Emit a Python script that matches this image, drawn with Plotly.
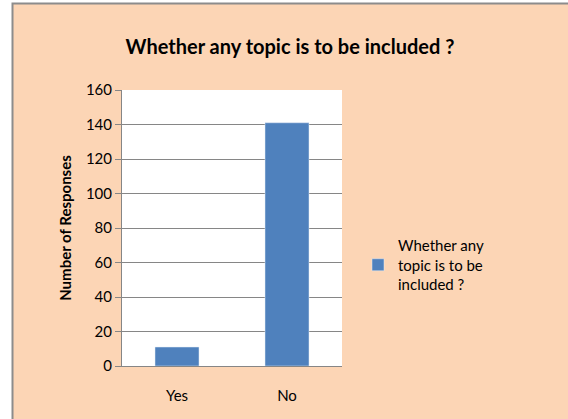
import plotly.graph_objects as go

categories = ["Yes", "No"]
responses = [11, 141]
series_name = "Whether any<br>topic is to be<br>included ?"
y_ticks = [0, 20, 40, 60, 80, 100, 120, 140, 160]

peach = "#FCD5B5"
grey = "#868686"
font_family = "Lato, 'Open Sans', sans-serif"

fig = go.Figure()
fig.add_trace(go.Bar(x=categories, y=responses, name=series_name,
                     marker_color="#4F81BD", showlegend=True))

# plot area spans pixels 122..342 horizontally, 90..366 vertically
fig.update_layout(
    width=568, height=419,
    margin=dict(l=122, r=226, t=90, b=53),
    paper_bgcolor=peach,
    plot_bgcolor="white",
    font=dict(family=font_family, size=15, color="black"),
    bargap=0.6,
    title=dict(text="<b>Whether any topic is to be included ?</b>",
               x=290 / 568, xanchor="center", y=1 - 47 / 419, yanchor="middle",
               font=dict(size=20)),
    xaxis=dict(showline=True, linecolor=grey, linewidth=1,
               ticks="outside", ticklen=16, tickcolor="rgba(0,0,0,0)",
               tickfont=dict(size=15)),
    yaxis=dict(range=[0, 160], tickvals=y_ticks, showgrid=True,
               gridcolor=grey, gridwidth=1, showline=True,
               linecolor=grey, linewidth=1, ticks="outside",
               ticklen=6, tickcolor=grey, zeroline=False,
               tickfont=dict(size=15),
               title=dict(text="<b>Number of Responses</b>",
                          font=dict(size=15), standoff=10)),
    legend=dict(x=(358 - 122) / 220, xanchor="left",
                y=(366 - 229) / 276, yanchor="top",
                bgcolor="rgba(0,0,0,0)", font=dict(size=15),
                itemwidth=30),
    shapes=[
        # white strip at left and top outside the chart frame
        dict(type="rect", xref="paper", yref="paper",
             x0=-122 / 220 - 0.01, x1=(12 - 122) / 220, y0=-1, y1=2,
             fillcolor="white", line_width=0, layer="below"),
        dict(type="rect", xref="paper", yref="paper",
             x0=-1, x1=3, y0=(366 - 3) / 276, y1=2,
             fillcolor="white", line_width=0, layer="below"),
        dict(type="path", xref="paper", yref="paper",
             path="M {x},{yb} L {x},{yt} L 3,{yt}".format(
                 x=(12.5 - 122) / 220, yb=-1, yt=(366 - 3.5) / 276),
             line=dict(color="#8C8C8C", width=2), layer="below"),
    ],
)

fig.write_html("out.html", config={"displayModeBar": False},
               post_script="document.body.style.margin='0';")
